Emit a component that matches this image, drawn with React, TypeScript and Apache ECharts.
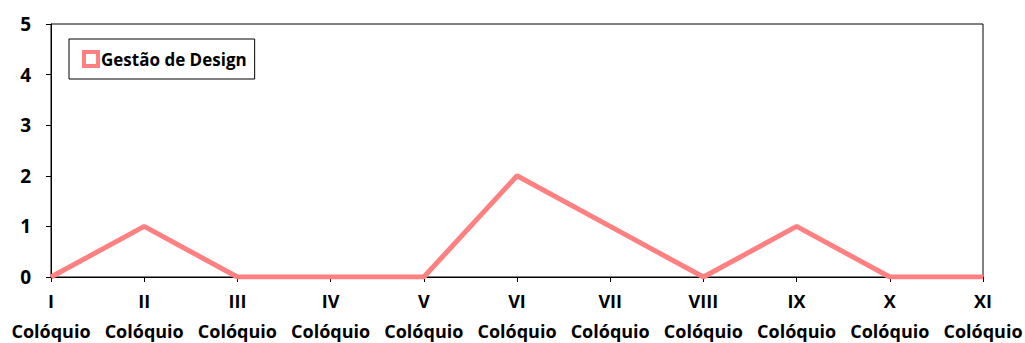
import React, { useEffect, useRef } from "react";
import * as echarts from "echarts";

const categories = ["I", "II", "III", "IV", "V", "VI", "VII", "VIII", "IX", "X", "XI"];
const categorySuffix = "Colóquio";
const seriesName = "Gestão de Design";
const values = [0, 1, 0, 0, 0, 2, 1, 0, 1, 0, 0];
const yTicks = [0, 1, 2, 3, 4, 5];

export default function App() {
  const ref = useRef<HTMLDivElement>(null);
  useEffect(() => {
    if (!ref.current) return;
    const chart = echarts.init(ref.current, undefined, { renderer: "svg" });
    const font = "'Open Sans', sans-serif";
    chart.setOption({
      animation: false,
      textStyle: { fontFamily: font },
      grid: {
        left: 51,
        right: 42,
        top: 24,
        bottom: 66,
        outerBoundsMode: "none",
        containLabel: false,
        show: true,
        borderColor: "#000",
        borderWidth: 1,
      },
      legend: {
        left: 69,
        top: 39,
        padding: [11, 8, 11, 13],
        borderColor: "#000",
        borderWidth: 1,
        borderRadius: 0,
        itemWidth: 14,
        itemHeight: 14,
        itemGap: 4,
        icon: "rect",
        textStyle: { fontFamily: font, fontSize: 17, fontWeight: "bold", color: "#000", padding: [0, 0, 0, -2] },
        data: [{ name: seriesName, itemStyle: { color: "#fff", borderColor: "#ff8080", borderWidth: 4 } }],
      },
      xAxis: {
        type: "category",
        data: categories,
        boundaryGap: false,
        axisLine: { lineStyle: { color: "#000", width: 1 } },
        axisTick: { show: true, length: 5, lineStyle: { color: "#000" }, alignWithLabel: true },
        axisLabel: {
          interval: 0,
          color: "#000",
          fontFamily: font,
          fontSize: 18,
          fontWeight: "bold",
          lineHeight: 30,
          margin: 9,
          formatter: (v: string) => `${v}\n${categorySuffix}`,
        },
        splitLine: { show: false },
      },
      yAxis: {
        type: "value",
        min: 0,
        max: 5,
        interval: 1,
        axisLine: { show: true, lineStyle: { color: "#000", width: 1 } },
        axisTick: { show: true, length: 5, lineStyle: { color: "#000" } },
        axisLabel: {
          color: "#000",
          fontFamily: font,
          fontSize: 19,
          fontWeight: "bold",
          margin: 20,
          formatter: (v: number) => (yTicks.includes(v) ? String(v) : ""),
        },
        splitLine: { show: false },
      },
      series: [
        {
          name: seriesName,
          type: "line",
          data: values,
          showSymbol: false,
          symbol: "rect",
          lineStyle: { color: "#ff8080", width: 5 },
          itemStyle: { color: "#ff8080" },
        },
      ],
    });
    return () => chart.dispose();
  }, []);
  return (
    <div
      ref={ref}
      style={{ width: 1025, height: 343, position: "absolute", left: 0, top: 0, background: "#fff" }}
    />
  );
}
